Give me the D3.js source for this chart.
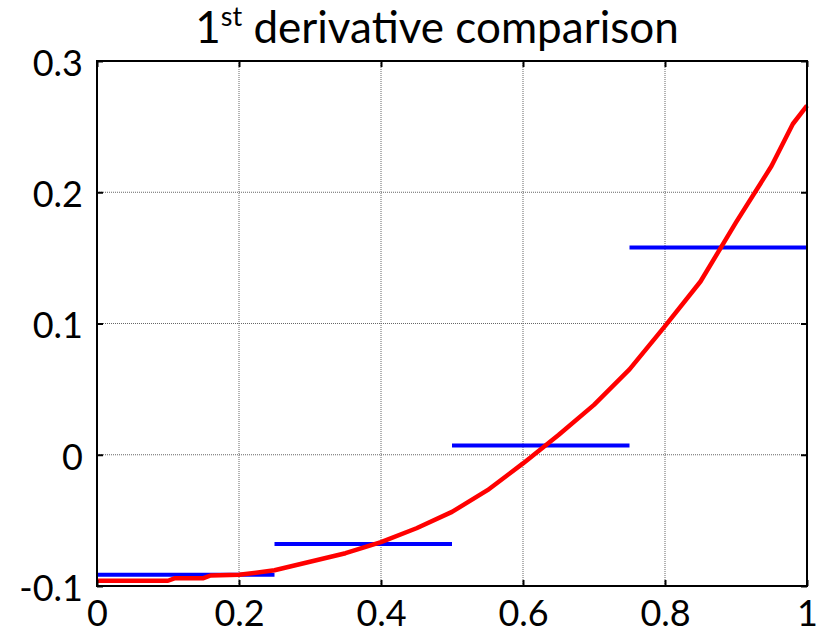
<!DOCTYPE html>
<html>
<head>
<meta charset="utf-8">
<script src="https://cdn.jsdelivr.net/npm/d3@7"></script>
<style>
  body { margin: 0; background: #fff; }
  text { font-family: Lato, "Open Sans", sans-serif; fill: #000; }
</style>
</head>
<body>
<svg id="graph" width="822" height="637"></svg>
<script>
// red curve: derivative (sampled)
var curveX = [0, 0.05, 0.1, 0.11, 0.15, 0.16, 0.2, 0.25, 0.3, 0.35, 0.4, 0.45, 0.5, 0.55, 0.6, 0.65, 0.7, 0.75, 0.8, 0.85, 0.9, 0.95, 0.98, 1.0];
var curveY = [-0.096, -0.096, -0.096, -0.094, -0.094, -0.092, -0.0915, -0.088, -0.0815, -0.075, -0.0665, -0.056, -0.0435, -0.027, -0.0066, 0.015, 0.038, 0.065, 0.098, 0.132, 0.177, 0.220, 0.252, 0.266];

// blue piecewise constant segments
var segStart = [0, 0.25, 0.5, 0.75];
var segEnd = [0.25, 0.5, 0.75, 1.0];
var segValue = [-0.0915, -0.068, 0.007, 0.158];

var xTicks = [0, 0.2, 0.4, 0.6, 0.8, 1];
var xTickLabels = ["0", "0.2", "0.4", "0.6", "0.8", "1"];
var yTicks = [-0.1, 0, 0.1, 0.2, 0.3];
var yTickLabels = ["-0.1", "0", "0.1", "0.2", "0.3"];

var plotLeft = 97, plotRight = 807, plotTop = 61, plotBottom = 586;

var svg = d3.select("#graph");

var xScale = d3.scaleLinear().domain([0, 1]).range([plotLeft, plotRight]);
var yScale = d3.scaleLinear().domain([-0.1, 0.3]).range([plotBottom, plotTop]);

// grid
svg.append("g")
  .selectAll("line")
  .data(xTicks)
  .enter()
  .append("line")
  .attr("x1", function (d) { return xScale(d); })
  .attr("x2", function (d) { return xScale(d); })
  .attr("y1", plotTop)
  .attr("y2", plotBottom)
  .attr("stroke", "#666")
  .attr("stroke-width", 1)
  .attr("stroke-dasharray", "1,1");

svg.append("g")
  .selectAll("line")
  .data(yTicks)
  .enter()
  .append("line")
  .attr("x1", plotLeft)
  .attr("x2", plotRight)
  .attr("y1", function (d) { return yScale(d); })
  .attr("y2", function (d) { return yScale(d); })
  .attr("stroke", "#666")
  .attr("stroke-width", 1)
  .attr("stroke-dasharray", "1,1");

// blue segments
svg.append("g")
  .selectAll("line")
  .data(segValue)
  .enter()
  .append("line")
  .attr("x1", function (d, i) { return xScale(segStart[i]); })
  .attr("x2", function (d, i) { return xScale(segEnd[i]); })
  .attr("y1", function (d) { return yScale(d); })
  .attr("y2", function (d) { return yScale(d); })
  .attr("stroke", "#0000ff")
  .attr("stroke-width", 4);

// red curve
var line = d3.line()
  .x(function (d) { return xScale(d[0]); })
  .y(function (d) { return yScale(d[1]); });

svg.append("path")
  .datum(curveX.map(function (x, i) { return [x, curveY[i]]; }))
  .attr("d", line)
  .attr("fill", "none")
  .attr("stroke", "#ff0000")
  .attr("stroke-width", 4.5)
  .attr("stroke-linejoin", "round");

// box
svg.append("rect")
  .attr("x", plotLeft)
  .attr("y", plotTop)
  .attr("width", plotRight - plotLeft)
  .attr("height", plotBottom - plotTop)
  .attr("fill", "none")
  .attr("stroke", "#000")
  .attr("stroke-width", 2);

// axes with inward ticks
var xAxisB = d3.axisBottom(xScale).tickValues(xTicks).tickSize(-6).tickFormat(function (d, i) { return xTickLabels[i]; }).tickPadding(14);
var xAxisT = d3.axisTop(xScale).tickValues(xTicks).tickSize(-6).tickFormat("");
var yAxisL = d3.axisLeft(yScale).tickValues(yTicks).tickSize(-6).tickFormat(function (d, i) { return yTickLabels[i]; }).tickPadding(14);
var yAxisR = d3.axisRight(yScale).tickValues(yTicks).tickSize(-6).tickFormat("");

var gx = svg.append("g").attr("transform", "translate(0," + plotBottom + ")").call(xAxisB);
svg.append("g").attr("transform", "translate(0," + plotTop + ")").call(xAxisT);
var gy = svg.append("g").attr("transform", "translate(" + plotLeft + ",0)").call(yAxisL);
svg.append("g").attr("transform", "translate(" + plotRight + ",0)").call(yAxisR);

svg.selectAll(".domain").remove();
svg.selectAll(".tick line").attr("stroke", "#000").attr("stroke-width", 2);
gx.selectAll("text").style("font-size", "36px").attr("dy", "0.71em");
gy.selectAll("text").style("font-size", "36px").attr("dy", "0.4em");

// title
var title = svg.append("text")
  .attr("x", 437)
  .attr("y", 43)
  .attr("text-anchor", "middle")
  .style("font-size", "44px");
title.append("tspan").text("1");
title.append("tspan").text("st").attr("dy", -17).style("font-size", "27px");
title.append("tspan").text(" derivative comparison").attr("dy", 17);
</script>
</body>
</html>
